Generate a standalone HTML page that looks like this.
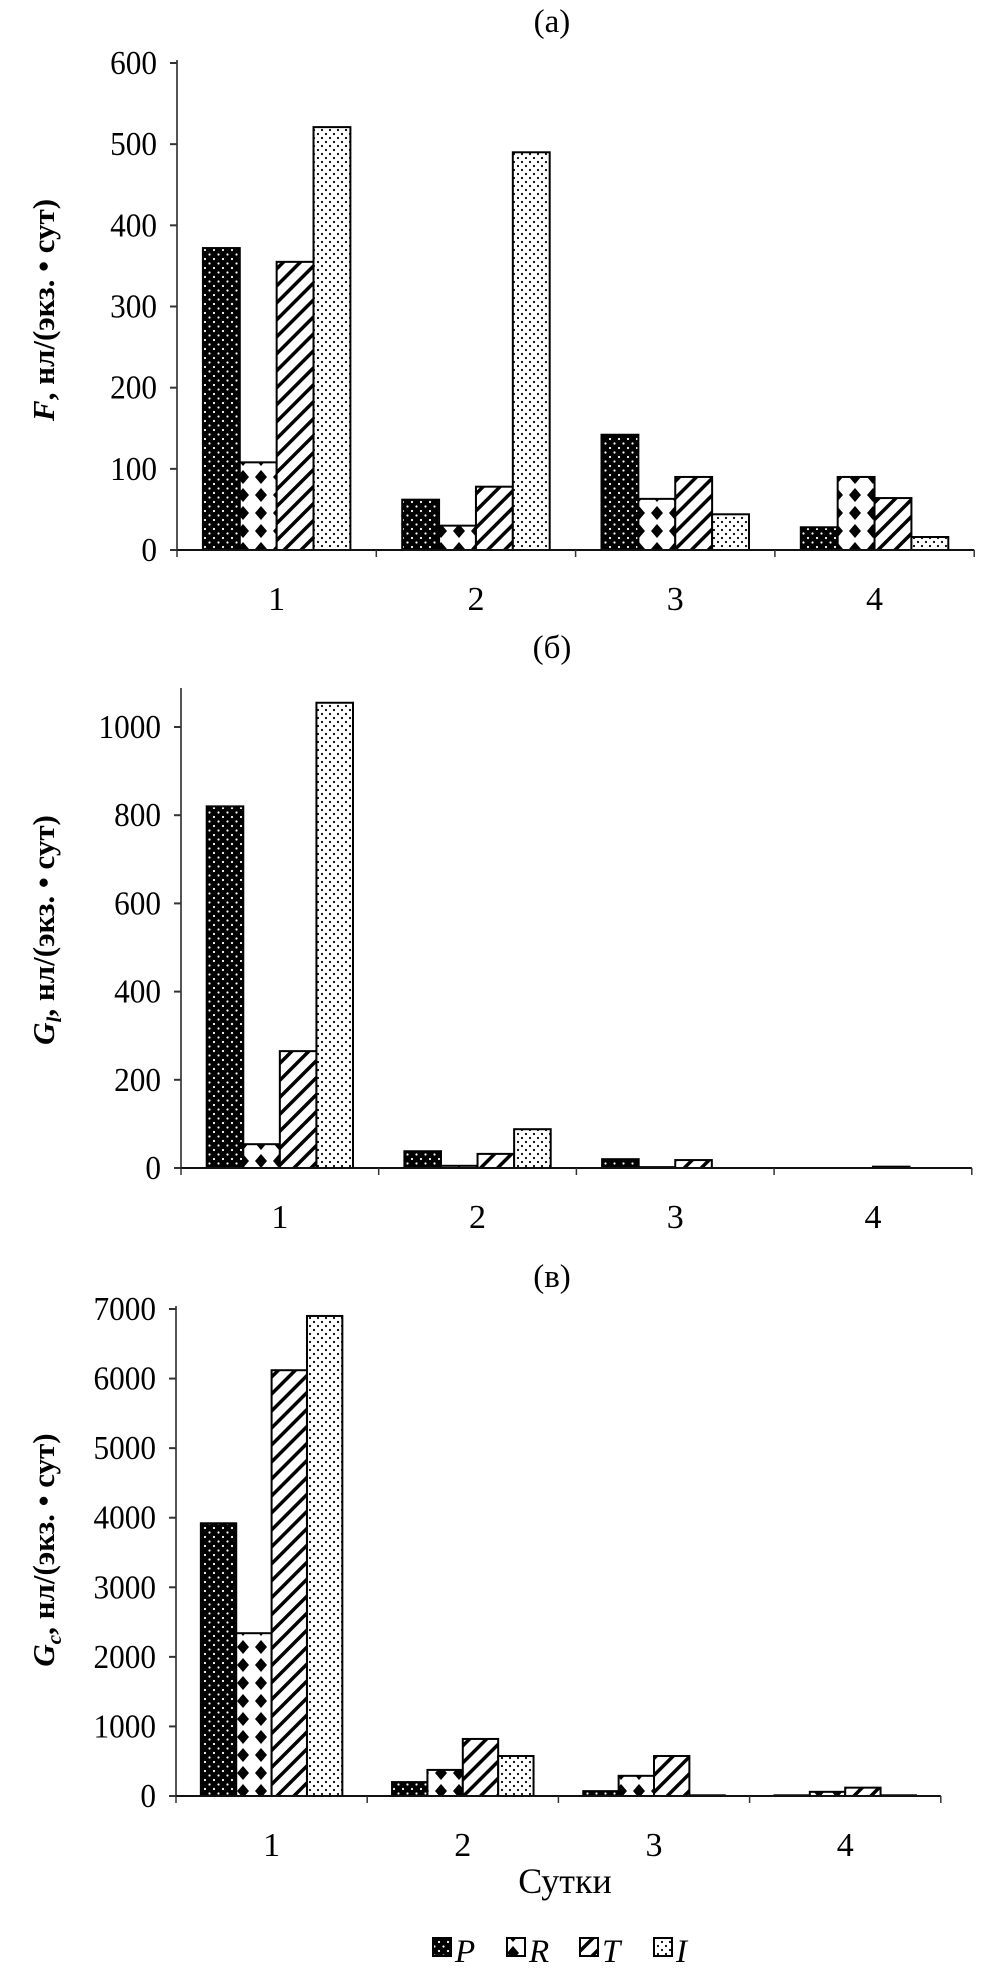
<!DOCTYPE html>
<html><head><meta charset="utf-8">
<style>
html,body{margin:0;padding:0;background:#fff;}
svg{display:block;}
text{font-family:"Liberation Serif",serif;fill:#000;}
</style></head>
<body>
<svg id="fig" width="992" height="1973" viewBox="0 0 992 1973" xmlns="http://www.w3.org/2000/svg">
<defs>
<pattern id="pP" patternUnits="userSpaceOnUse" width="9" height="9"><rect width="9" height="9" fill="#000"/><circle cx="2.5" cy="2.5" r="1.1" fill="#fff"/><circle cx="7" cy="7" r="1.1" fill="#fff"/></pattern>
<pattern id="pR" patternUnits="userSpaceOnUse" width="18" height="18"><rect width="18" height="18" fill="#fff"/><polygon points="9,2 15,9 9,16 3,9" fill="#000"/></pattern>
<pattern id="pT" patternUnits="userSpaceOnUse" width="12" height="12" patternTransform="rotate(45)"><rect width="12" height="12" fill="#fff"/><rect x="0" y="0" width="3.5" height="12" fill="#000"/></pattern>
<pattern id="pI" patternUnits="userSpaceOnUse" width="8" height="8"><rect width="8" height="8" fill="#fff"/><circle cx="2" cy="2" r="1.1" fill="#000"/><circle cx="6" cy="6" r="1.1" fill="#000"/></pattern>
</defs>
<g id="root"></g>
</svg>
<script>
const categories = ["1","2","3","4"];
const seriesNames = ["P","R","T","I"];
// Panel (а) F
const aP = [372, 62, 142, 28];
const aR = [108, 30, 63, 90];
const aT = [355, 78, 90, 64];
const aI = [521, 490, 44, 16];
const aTicks = [0,100,200,300,400,500,600];
// Panel (б) Gl
const bP = [820, 38, 20, 0];
const bR = [54, 5, 2, 0];
const bT = [265, 32, 18, 3];
const bI = [1055, 88, 0, 0];
const bTicks = [0,200,400,600,800,1000];
// Panel (в) Gc
const cP = [3920, 200, 70, 10];
const cR = [2340, 375, 290, 60];
const cT = [6120, 820, 575, 120];
const cI = [6900, 575, 10, 10];
const cTicks = [0,1000,2000,3000,4000,5000,6000,7000];

const NS = "http://www.w3.org/2000/svg";
const root = document.getElementById("root");
function mk(tag, attrs, parent){const e=document.createElementNS(NS,tag);for(const k in attrs)e.setAttribute(k,attrs[k]);(parent||root).appendChild(e);return e;}
const fills = ["url(#pP)","url(#pR)","url(#pT)","url(#pI)"];

function drawPanel(cfg){
  const g = mk("g",{});
  
  
  const x0=cfg.x0, gw=cfg.gw, y0=cfg.y0, yTop=cfg.yTop, vmax=cfg.vmax;
  const ys = v => y0 - (v/vmax)*(y0-yTop);
  const xs = (ci, si) => x0 + gw*ci + gw*0.13 + si*gw*0.185;
  const bw = gw*0.185;
  const t = mk("text",{x:cfg.titleX,y:cfg.titleY,"font-size":"33","text-anchor":"middle"},g);
  t.textContent = cfg.title;
  
  
  const ya = mk("line",{x1:x0,y1:cfg.axisTop,x2:x0,y2:y0,stroke:"#555","stroke-width":"2"},g);
  
  
  cfg.ticks.forEach(v=>{
    const y=ys(v);
    mk("line",{x1:x0-7,y1:y,x2:x0,y2:y,stroke:"#333","stroke-width":"2"},g);
    const tl=mk("text",{x:x0-20,y:y+11,"font-size":"34","text-anchor":"end",transform:"translate("+(x0-20)+",0) scale(0.92,1) translate("+(-(x0-20))+",0)"},g);
    tl.textContent=v;
    
    
  });
  cfg.series.forEach((arr,si)=>{
    arr.forEach((v,ci)=>{
      const x=xs(ci,si), y=ys(v);
      const r=mk("rect",{x:x,y:y,width:bw,height:Math.max(0,y0-y),fill:fills[si],stroke:"#000","stroke-width":"2"},g);
      
      
    });
  });
  const xa = mk("line",{x1:x0,y1:y0,x2:x0+gw*4,y2:y0,stroke:"#111","stroke-width":"2"},g);
  
  
  for(let i=0;i<=4;i++){
    mk("line",{x1:x0+gw*i,y1:y0,x2:x0+gw*i,y2:y0+7,stroke:"#333","stroke-width":"1.5"},g);
  }
  categories.forEach((c,ci)=>{
    const tl=mk("text",{x:x0+gw*(ci+0.5),y:y0+60,"font-size":"34","text-anchor":"middle"},g);
    tl.textContent=c;
    
    
  });
  const yt=mk("text",{transform:"translate(54,"+cfg.yTitleY+") rotate(-90)","font-size":"31","text-anchor":"middle","font-weight":"bold"},g);
  
  
  const s1=mk("tspan",{"font-style":"italic"},yt); s1.textContent=cfg.sym;
  if(cfg.sub){const s2=mk("tspan",{"font-style":"italic","font-size":"21",dy:"7"},yt); s2.textContent=cfg.sub;
    const s3=mk("tspan",{dy:"-7"},yt); s3.textContent=", нл/(экз. • сут)";}
  else {const s3=mk("tspan",{},yt); s3.textContent=", нл/(экз. • сут)";}
}

drawPanel({name:"panel-a",title:"(а)",titleX:552,titleY:32,x0:177,gw:199.3,y0:550,yTop:63,axisTop:60,vmax:600,ticks:aTicks,series:[aP,aR,aT,aI],sym:"F",sub:"",yTitleY:310});
drawPanel({name:"panel-b",title:"(б)",titleX:552,titleY:658,x0:181,gw:197.7,y0:1168,yTop:727,axisTop:688,vmax:1000,ticks:bTicks,series:[bP,bR,bT,bI],sym:"G",sub:"l",yTitleY:930});
drawPanel({name:"panel-c",title:"(в)",titleX:552,titleY:1287,x0:176,gw:191.2,y0:1796,yTop:1309,axisTop:1306,vmax:7000,ticks:cTicks,series:[cP,cR,cT,cI],sym:"G",sub:"c",yTitleY:1550});

const xt=mk("text",{x:565,y:1893,"font-size":"36","text-anchor":"middle"});
xt.textContent="Сутки";



const legX=[433,507,580,654];
seriesNames.forEach((n,i)=>{
  const lg=mk("g",{});
  
  
  mk("rect",{x:legX[i],y:1938,width:18,height:18,fill:fills[i],stroke:"#000","stroke-width":"2"},lg);
  const t=mk("text",{x:legX[i]+22,y:1962,"font-size":"33","font-style":"italic"},lg);
  t.textContent=n;
});
</script>
</body></html>
